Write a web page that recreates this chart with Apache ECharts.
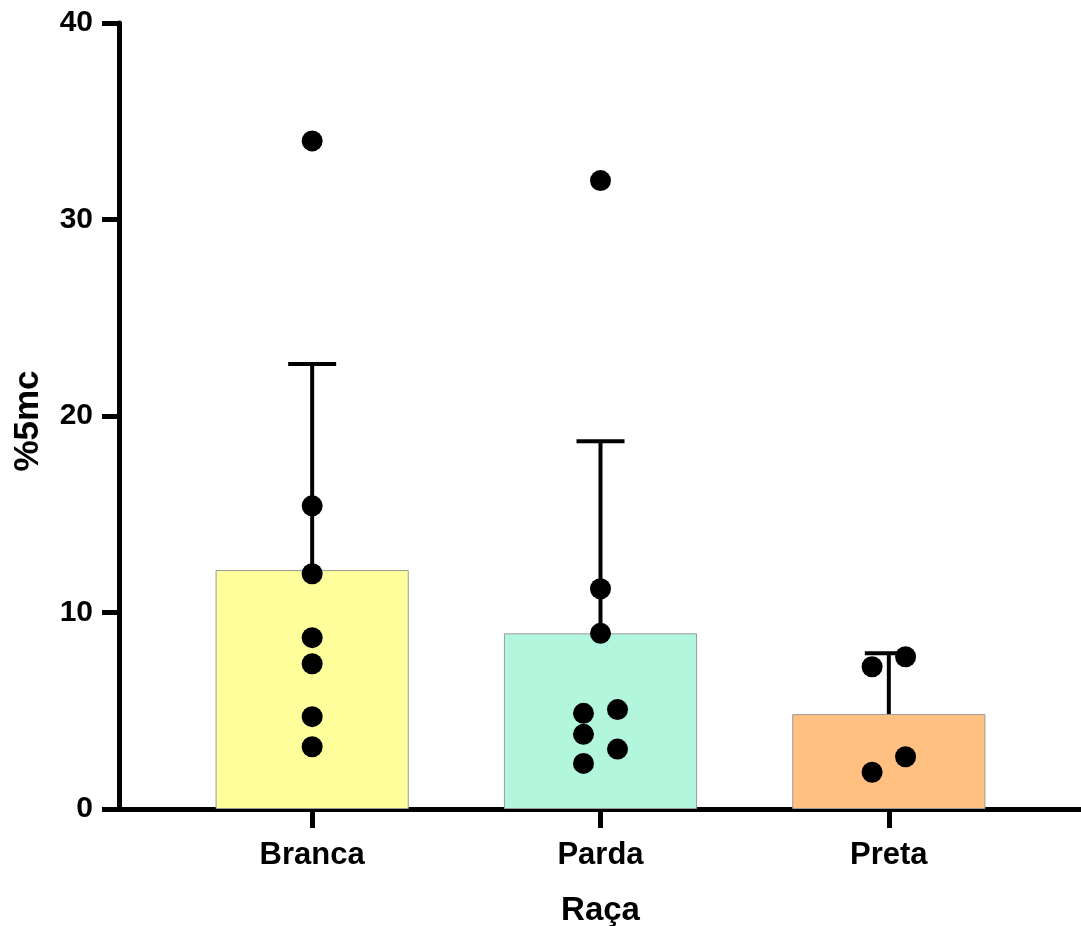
<!DOCTYPE html>
<html>
<head>
<meta charset="utf-8">
<script src="https://cdn.jsdelivr.net/npm/echarts@6/dist/echarts.min.js"></script>
<style>
html,body{margin:0;padding:0;background:#fff;}
#chart{width:1081px;height:926px;}
</style>
</head>
<body>
<div id="chart"></div>
<script>
// ---- data ----
const categories = ['Branca', 'Parda', 'Preta'];
const means = [12.16, 8.94, 4.83];
const sds = [10.49, 9.78, 3.09];
const brancaValues = [34.0, 15.43, 11.97, 8.72, 7.39, 4.70, 3.17];
const pardaValues = [31.98, 11.21, 8.94, 4.87, 3.80, 2.32, 5.06, 3.05];
const pretaValues = [7.24, 7.75, 2.66, 1.87];
const yTicks = [0, 10, 20, 30, 40];

// horizontal jitter (category units) used to avoid overlapping dots
const brancaJitter = [0, 0, 0, 0, 0, 0, 0];
const pardaJitter = [0, 0, 0, -0.059, -0.059, -0.059, 0.059, 0.059];
const pretaJitter = [-0.058, 0.058, 0.058, -0.058];

const barColors = ['#FFFF9C', '#B3F6DE', '#FFC081'];
const FONT = 'Liberation Sans, Arial, sans-serif';

const groups = [
  [brancaValues, brancaJitter],
  [pardaValues, pardaJitter],
  [pretaValues, pretaJitter]
];
const points = [];
groups.forEach(function (g, i) {
  g[0].forEach(function (v, k) { points.push([i + g[1][k], v]); });
});

const chart = echarts.init(document.getElementById('chart'), null, {renderer: 'canvas'});
const option = {
  animation: false,
  backgroundColor: '#fff',
  grid: [
    {left: 119, right: 0, top: 23, bottom: 117, containLabel: false, outerBoundsMode: 'none'},
    {left: 168, width: 865, top: 23, bottom: 117, containLabel: false, outerBoundsMode: 'none'}
  ],
  xAxis: [
    {
      gridIndex: 0, type: 'value', min: 0, max: 1,
      axisLine: {show: true, lineStyle: {color: '#000', width: 5}},
      axisTick: {show: false}, axisLabel: {show: false}, splitLine: {show: false}
    },
    {
      gridIndex: 1, type: 'category', data: categories,
      axisLine: {show: false},
      axisTick: {show: true, alignWithLabel: true, length: 19, lineStyle: {color: '#000', width: 5}},
      axisLabel: {color: '#000', fontSize: 31, fontWeight: 'bold', fontFamily: FONT, margin: 31},
      name: 'Raça', nameLocation: 'middle', nameGap: 85,
      nameTextStyle: {color: '#000', fontSize: 33, fontWeight: 'bold', fontFamily: FONT},
      splitLine: {show: false}
    },
    {
      gridIndex: 1, type: 'value', min: -0.5, max: 2.5, show: false
    }
  ],
  yAxis: [
    {
      gridIndex: 0, type: 'value', min: yTicks[0], max: yTicks[yTicks.length - 1], interval: 10,
      axisLine: {show: true, lineStyle: {color: '#000', width: 5}},
      axisTick: {show: true, length: 17, lineStyle: {color: '#000', width: 5}},
      axisLabel: {color: '#000', fontSize: 30, fontWeight: 'bold', fontFamily: FONT, margin: 26},
      splitLine: {show: false},
      name: '%5mc', nameLocation: 'middle', nameGap: 73, nameRotate: 90,
      nameTextStyle: {color: '#000', fontSize: 35, fontWeight: 'bold', fontFamily: FONT, padding: [0, 10, 0, 0]}
    },
    {
      gridIndex: 1, type: 'value', min: yTicks[0], max: yTicks[yTicks.length - 1], show: false
    }
  ],
  series: [
    {
      type: 'bar', xAxisIndex: 1, yAxisIndex: 1,
      barWidth: '67%',
      data: means.map(function (m, i) {
        return {value: m, itemStyle: {color: barColors[i]}};
      }),
      itemStyle: {borderColor: '#9a9a9a', borderWidth: 1},
      z: 2
    },
    {
      type: 'custom', xAxisIndex: 1, yAxisIndex: 1,
      data: means.map(function (m, i) { return [i, m, m + sds[i]]; }),
      renderItem: function (params, api) {
        const base = api.coord([api.value(0), api.value(1)]);
        const top = api.coord([api.value(0), api.value(2)]);
        const hw = 24;
        const style = {stroke: '#000', lineWidth: 4};
        return {
          type: 'group',
          children: [
            {type: 'line', shape: {x1: base[0], y1: base[1], x2: top[0], y2: top[1]}, style: style},
            {type: 'line', shape: {x1: top[0] - hw, y1: top[1], x2: top[0] + hw, y2: top[1]}, style: style}
          ]
        };
      },
      z: 3
    },
    {
      type: 'scatter', xAxisIndex: 2, yAxisIndex: 1,
      symbol: 'circle', symbolSize: 21,
      itemStyle: {color: '#000', opacity: 1},
      data: points,
      z: 4
    }
  ]
};
chart.setOption(option);
</script>
</body>
</html>
